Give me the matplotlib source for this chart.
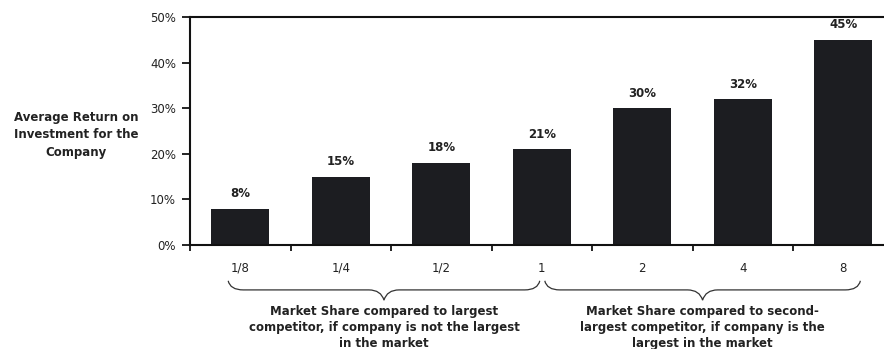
import matplotlib
matplotlib.use("Agg")
import matplotlib.pyplot as plt
from matplotlib.path import Path
from matplotlib.patches import PathPatch
import matplotlib.transforms as mtransforms

categories = ["1/8", "1/4", "1/2", "1", "2", "4", "8"]
returns = [8, 15, 18, 21, 30, 32, 45]
value_labels = ["8%", "15%", "18%", "21%", "30%", "32%", "45%"]
yticks = [0, 10, 20, 30, 40, 50]
ytick_labels = ["0%", "10%", "20%", "30%", "40%", "50%"]
group1_text = "Market Share compared to largest\ncompetitor, if company is not the largest\nin the market"
group2_text = "Market Share compared to second-\nlargest competitor, if company is the\nlargest in the market"
ylabel_text = "Average Return on\nInvestment for the\nCompany"

plt.rcParams['font.family'] = ['DejaVu Sans']
BAR = "#1c1d21"
TXT = "#222222"

fig = plt.figure(figsize=(8.84, 3.49), dpi=100)
ax = fig.add_axes([190/884, 1-245/349, 1-190/884, 228/349])

x = list(range(len(categories)))
ax.bar(x, returns, width=0.58, color=BAR, zorder=2)
for xi, v, lab in zip(x, returns, value_labels):
    ax.text(xi, v + 3.3, lab, ha="center", va="center", fontsize=8.5,
            fontweight="bold", color=TXT)

ax.set_yticks(yticks)
ax.set_yticklabels(ytick_labels, fontsize=8.5, color=TXT)
ax.set_xticks(x)
ax.set_xticklabels(categories, fontsize=8.5, color=TXT)
ax.set_xticks([i - 0.5 for i in range(len(categories))], minor=True)
ax.set_xlim(-0.5, 6.405)
ax.set_ylim(0, 50)
ax.tick_params(axis="x", which="major", length=0, pad=12)
ax.tick_params(axis="x", which="minor", length=4, width=1.2, direction="out")
ax.tick_params(axis="y", length=6, width=1.2, direction="out", pad=4)
for s in ["left", "bottom", "top"]:
    ax.spines[s].set_linewidth(1.5)
    ax.spines[s].set_color("#111111")
ax.spines["right"].set_visible(False)

trans = mtransforms.blended_transform_factory(ax.transData, ax.transAxes)

def brace(x0, x1, xm, y, h, curl):
    verts = [
        (x0, y + curl), (x0 + 0.02, y), (x0 + 0.15, y),
        (xm - 0.15, y),
        (xm - 0.03, y), (xm, y - h),
        (xm + 0.03, y), (xm + 0.15, y),
        (x1 - 0.15, y),
        (x1 - 0.02, y), (x1, y + curl),
    ]
    codes = [Path.MOVETO, Path.CURVE3, Path.CURVE3, Path.LINETO,
             Path.CURVE3, Path.CURVE3, Path.CURVE3, Path.CURVE3,
             Path.LINETO, Path.CURVE3, Path.CURVE3]
    p = PathPatch(Path(verts, codes), transform=trans, fill=False,
                  lw=0.9, color="#333333", clip_on=False)
    ax.add_patch(p)

g1_start, g1_end = 0, 3
g2_start, g2_end = 3, 6
b1 = (g1_start - 0.12, g1_end - 0.02)
b2 = (g2_start + 0.03, g2_end + 0.17)
brace(b1[0], b1[1], sum(b1)/2, -0.197, 0.045, 0.04)
brace(b2[0], b2[1], sum(b2)/2, -0.197, 0.045, 0.04)

ax.text(sum(b1)/2, -0.364, group1_text, transform=trans, ha="center", va="center",
        fontsize=8.5, fontweight="bold", color=TXT, linespacing=1.3)
ax.text(sum(b2)/2, -0.364, group2_text, transform=trans, ha="center", va="center",
        fontsize=8.5, fontweight="bold", color=TXT, linespacing=1.3)

fig.text(76/884, 1-135/349, ylabel_text, ha="center", va="center", fontsize=8.5,
         fontweight="bold", color=TXT, linespacing=1.45)

fig.savefig("out.png", dpi=100)
